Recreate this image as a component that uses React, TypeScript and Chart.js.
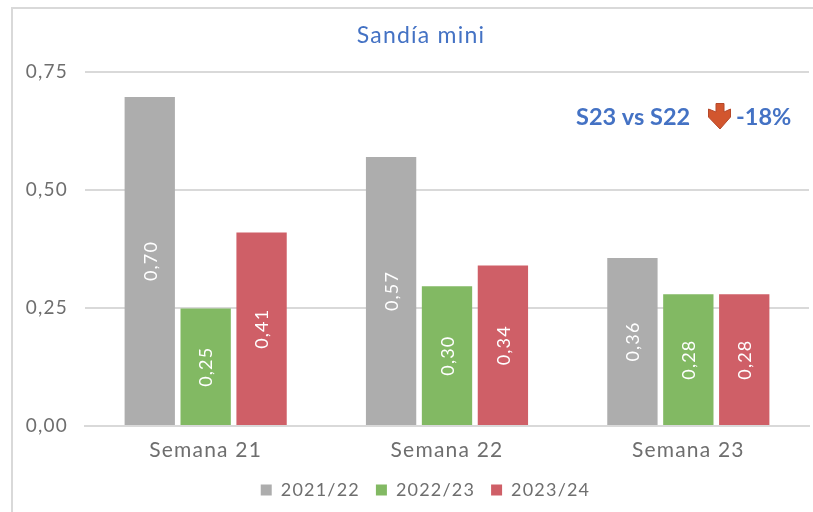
import React, { useEffect, useRef } from "react";
import { Chart, registerables } from "chart.js";

Chart.register(...registerables);

const categories = ["Semana 21", "Semana 22", "Semana 23"];
const seriesNames = ["2021/22", "2022/23", "2023/24"];
const values2122 = [0.697, 0.57, 0.356];
const values2223 = [0.249, 0.296, 0.279];
const values2324 = [0.41, 0.34, 0.279];
const seriesColors = ["#ADADAD", "#82B963", "#CF5F67"];
const yTicks = [0, 0.25, 0.5, 0.75];
const chartTitle = "Sandía mini";
const noteLabel = "S23 vs S22";
const noteValue = "-18%";

const FONT = "Lato, 'Noto Sans', sans-serif";
const SPACING = "1.2px";
const fmt = (v: number) => v.toFixed(2).replace(".", ",");

const overlayPlugin = {
  id: "overlay",
  beforeLayout(chart: any) {
    chart.ctx.letterSpacing = SPACING;
  },
  afterLayout(chart: any) {
    chart.legend.left += 21;
    chart.legend.right += 21;
  },
  beforeDraw(chart: any) {
    chart.ctx.letterSpacing = SPACING;
  },
  afterDatasetsDraw(chart: any) {
    const ctx = chart.ctx;
    ctx.save();
    chart.data.datasets.forEach((ds: any, i: number) => {
      chart.getDatasetMeta(i).data.forEach((bar: any, j: number) => {
        ctx.save();
        ctx.translate(bar.x + 1, (bar.y + bar.base) / 2);
        ctx.rotate(-Math.PI / 2);
        ctx.fillStyle = "#ffffff";
        ctx.font = `18px ${FONT}`;
        ctx.textAlign = "center";
        ctx.textBaseline = "middle";
        ctx.fillText(fmt(ds.data[j]), 0, 0);
        ctx.restore();
      });
    });
    ctx.fillStyle = "#4472C4";
    ctx.font = `23px ${FONT}`;
    ctx.textAlign = "center";
    ctx.textBaseline = "middle";
    ctx.fillText(chartTitle, 421, 36);
    ctx.letterSpacing = "0px";
    ctx.font = `bold 23.5px ${FONT}`;
    ctx.textAlign = "left";
    ctx.fillText(noteLabel, 576, 117);
    ctx.fillText(noteValue, 736, 117);
    ctx.fillStyle = "#D2562E";
    ctx.strokeStyle = "#B5482A";
    ctx.lineWidth = 1;
    ctx.beginPath();
    const pts = [[716, 103.5], [724, 103.5], [724, 112], [730.5, 109], [730.5, 117], [720, 129], [708.5, 117], [708.5, 109], [716, 112]];
    pts.forEach(([x, y], k) => (k ? ctx.lineTo(x, y) : ctx.moveTo(x, y)));
    ctx.closePath();
    ctx.fill();
    ctx.stroke();
    ctx.restore();
  },
};

export default function App() {
  const ref = useRef<HTMLCanvasElement>(null);
  useEffect(() => {
    const chart = new Chart(ref.current!, {
      type: "bar",
      data: {
        labels: categories,
        datasets: [values2122, values2223, values2324].map((data, i) => ({
          label: seriesNames[i],
          data,
          backgroundColor: seriesColors[i],
          categoryPercentage: 0.695,
          barPercentage: 0.9,
        })),
      },
      plugins: [overlayPlugin],
      options: {
        animation: false,
        responsive: false,
        layout: { padding: { top: 72, right: 4, bottom: 3, left: 0 } },
        plugins: {
          title: { display: false },
          tooltip: { enabled: false },
          legend: {
            position: "bottom",
            labels: {
              boxWidth: 11,
              boxHeight: 11,
              padding: 16,
              color: "#6E6E6E",
              font: { family: FONT, size: 18 },
            },
          },
        },
        scales: {
          x: {
            afterFit(scale: any) { scale.height = 39; },
            grid: { display: false },
            border: { color: "#D9D9D9", width: 2 },
            ticks: { color: "#6E6E6E", font: { family: FONT, size: 21 }, padding: 4 },
          },
          y: {
            min: 0,
            max: 0.75,
            afterFit(scale: any) { scale.width = 85; },
            afterBuildTicks(scale: any) { scale.ticks = yTicks.map((value) => ({ value })); },
            grid: { color: "#D9D9D9", lineWidth: 2, drawTicks: false },
            border: { display: false },
            ticks: {
              color: "#6E6E6E",
              font: { family: FONT, size: 19 },
              padding: 17,
              callback: (v: any) => fmt(Number(v)),
            },
          },
        },
      },
    } as any);
    return () => chart.destroy();
  }, []);
  return (
    <div style={{ position: "absolute", left: 0, top: 0, width: 813, height: 512, overflow: "hidden", background: "#fff" }}>
      <canvas ref={ref} width={813} height={512} style={{ display: "block" }} />
      <div style={{ position: "absolute", left: 11, top: 7, width: 802, height: 505, borderLeft: "2px solid #D9D9D9", borderTop: "2px solid #D9D9D9", boxSizing: "border-box" }} />
    </div>
  );
}
